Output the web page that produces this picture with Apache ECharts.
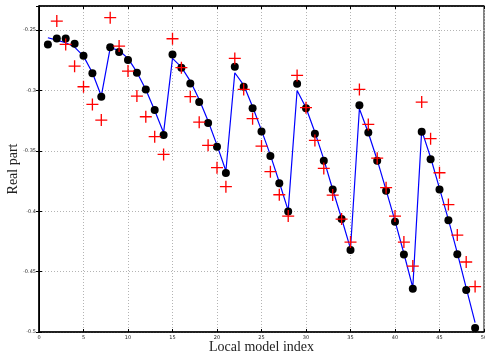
<!DOCTYPE html>
<html>
<head>
<meta charset="utf-8">
<script src="https://cdn.jsdelivr.net/npm/echarts@6/dist/echarts.min.js"></script>
<style>
  html, body { margin: 0; padding: 0; background: #fff; }
  #main { width: 485px; height: 358px; }
</style>
</head>
<body>
<div id="main"></div>
<script>
// local model index 1..49 : black dots
var dotStart = 1;
var dotVals = [-0.2618, -0.2569, -0.2569, -0.2613, -0.2712, -0.2858, -0.3051,
  -0.2641, -0.2682, -0.2748, -0.2853, -0.2991, -0.3162, -0.3369,
  -0.2701, -0.2811, -0.2941, -0.3096, -0.3270, -0.3465, -0.3684,
  -0.2803, -0.2969, -0.3146, -0.3339, -0.3543, -0.3767, -0.4003,
  -0.2944, -0.3146, -0.3358, -0.3581, -0.3819, -0.4065, -0.4321,
  -0.3123, -0.3347, -0.3581, -0.3830, -0.4086, -0.4359, -0.4641,
  -0.3341, -0.3570, -0.3819, -0.4075, -0.4357, -0.4652, -0.4967];

// blue line, index 1..49
var lineStart = 1;
var lineVals = [-0.2563, -0.2583, -0.2604, -0.2640, -0.2715, -0.2853, -0.3046,
  -0.2646, -0.2668, -0.2734, -0.2848, -0.2991, -0.3165, -0.3349,
  -0.2734, -0.2806, -0.2922, -0.3074, -0.3253, -0.3452, -0.3667,
  -0.2853, -0.2955, -0.3135, -0.3330, -0.3535, -0.3760, -0.3995,
  -0.3000, -0.3143, -0.3345, -0.3570, -0.3820, -0.4060, -0.4310,
  -0.3151, -0.3350, -0.3575, -0.3825, -0.4080, -0.4350, -0.4632,
  -0.3330, -0.3555, -0.3810, -0.4070, -0.4345, -0.4635, -0.4922];

// red crosses, index 2..49
var crossStart = 2;
var crossVals = [-0.2425, -0.2618, -0.2798, -0.2969, -0.3115, -0.3245,
  -0.2397, -0.2632, -0.2839, -0.3046, -0.3217, -0.3382, -0.3529,
  -0.2571, -0.2811, -0.3051, -0.3262, -0.3454, -0.3639, -0.3796,
  -0.2734, -0.2991, -0.3233, -0.3460, -0.3672, -0.3863, -0.4040,
  -0.2875, -0.3142, -0.3413, -0.3645, -0.3866, -0.4065, -0.4255,
  -0.2991, -0.3281, -0.3560, -0.3805, -0.4040, -0.4255, -0.4454,
  -0.3096, -0.3399, -0.3681, -0.3945, -0.4197, -0.4420, -0.4624];

function pairs(start, vals) {
  return vals.map(function (v, i) { return [start + i, v]; });
}

var myChart = echarts.init(document.getElementById('main'));

var tickFont = { fontFamily: 'DejaVu Sans', fontSize: 5, color: '#222' };
var dotted = { show: true, lineStyle: { color: '#b4b4b4', type: [1, 2], width: 1 } };

var option = {
  animation: false,
  backgroundColor: '#fff',
  grid: {
    left: 39, top: 6, right: 1, bottom: 26,
    containLabel: false, outerBoundsMode: 'none',
    show: true, borderColor: '#000', borderWidth: 1
  },
  xAxis: [{
    type: 'value', min: 0, max: 50, interval: 5,
    name: 'Local model index', nameLocation: 'middle', nameGap: 8, nameMoveOverlap: false,
    nameTextStyle: { fontFamily: 'Liberation Serif', fontSize: 14, color: '#222' },
    axisLine: { show: true, onZero: false, lineStyle: { color: '#000', width: 1.5 } },
    axisTick: { show: true, inside: true, length: 3, lineStyle: { color: '#000' } },
    axisLabel: Object.assign({ margin: 3 }, tickFont),
    splitLine: dotted
  }, {
    type: 'value', min: 0, max: 50, interval: 5, position: 'top',
    axisLine: { show: true, lineStyle: { color: '#000', width: 1.5 } },
    axisTick: { show: true, inside: true, length: 3, lineStyle: { color: '#000' } },
    axisLabel: { show: false }, splitLine: { show: false }
  }],
  yAxis: [{
    type: 'value', min: -0.5, max: -0.23, interval: 0.05,
    name: 'Real part', nameLocation: 'middle', nameGap: 19, nameMoveOverlap: false,
    nameTextStyle: { fontFamily: 'Liberation Serif', fontSize: 14, color: '#222' },
    axisLine: { show: true, onZero: false, lineStyle: { color: '#000', width: 1.5 } },
    axisTick: { show: true, inside: true, length: 3, lineStyle: { color: '#000' } },
    axisLabel: Object.assign({ margin: 3, showMaxLabel: false }, tickFont),
    splitLine: dotted
  }, {
    type: 'value', min: -0.5, max: -0.23, interval: 0.05, position: 'right',
    axisLine: { show: true, lineStyle: { color: '#000', width: 1 } },
    axisTick: { show: true, inside: true, length: 3, lineStyle: { color: '#000' } },
    axisLabel: { show: false }, splitLine: { show: false }
  }],
  series: [{
    type: 'line',
    data: pairs(lineStart, lineVals),
    showSymbol: false,
    lineStyle: { color: '#0000ff', width: 1.2 },
    z: 2
  }, {
    type: 'scatter',
    data: pairs(dotStart, dotVals),
    symbol: 'circle',
    symbolSize: 8,
    itemStyle: { color: '#000', opacity: 1 },
    z: 3
  }, {
    type: 'scatter',
    data: pairs(crossStart, crossVals),
    symbol: 'path://M4.45,0H5.55V4.45H10V5.55H5.55V10H4.45V5.55H0V4.45H4.45Z',
    symbolSize: 12,
    itemStyle: { color: '#ff0000', opacity: 1 },
    z: 4
  }]
};

myChart.setOption(option);
window.addEventListener('resize', function () {
  myChart.resize();
});
</script>
</body>
</html>
